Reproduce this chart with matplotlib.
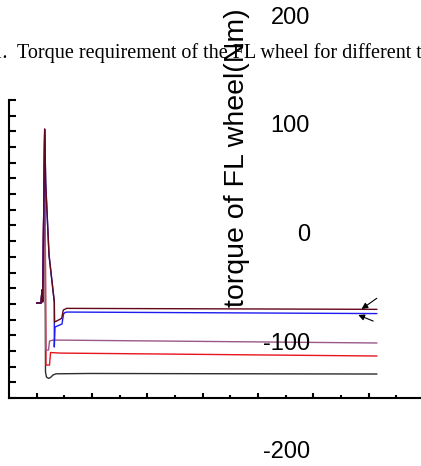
import matplotlib
matplotlib.use("Agg")
import matplotlib.pyplot as plt
import numpy as np

# shared start and spike (time in s, torque in Nm)
t_start = [0.0, 0.156, 0.192, 0.217, 0.289]
q_start = [-62.7, -62.7, -50.7, -61.5, 97.4]

# each case continues from the spike top
t_black = [0.318, 0.354, 0.427, 0.499, 0.590, 0.698, 1.928, 12.297]
q_black = [-126.3, -130.9, -132.1, -131.3, -129.0, -127.9, -127.6, -128.1]

t_red = [0.336, 0.463, 0.499, 0.843, 12.297]
q_red = [-119.8, -119.8, -108.3, -108.8, -111.5]

t_purple = [0.329, 0.427, 0.463, 0.600, 12.297]
q_purple = [-106.0, -106.0, -97.7, -96.8, -99.5]

t_blue = [0.325, 0.445, 0.637, 0.637, 0.662, 0.915, 0.969, 1.024, 1.096, 12.297]
q_blue = [47.9, -18.4, -61.8, -103.2, -84.8, -82.0, -72.8, -71.4, -71.0, -72.4]

t_maroon = [0.325, 0.445, 0.637, 0.647, 0.904, 0.962, 1.085, 12.297]
q_maroon = [47.9, -18.4, -61.8, -80.2, -76.8, -69.1, -67.6, -68.5]

y_labels = [200, 100, 0, -100, -200]

# arrows: (tail, head)
arrows = [((12.30, -58.3), (11.75, -68.2)),
          ((12.17, -79.3), (11.63, -73.7))]

fig = plt.figure(figsize=(4.21, 4.66), dpi=100)
ax = fig.add_axes([0.0221, 0.1459, 0.978, 0.6395])

series = [(t_black, q_black, "#2e2e2e"),
          (t_red, q_red, "#e8141e"),
          (t_purple, q_purple, "#9a5888"),
          (t_blue, q_blue, "#1c1cf0"),
          (t_maroon, q_maroon, "#62081c")]
for t, q, c in series:
    ax.plot(t_start + t, q_start + q, color=c, lw=1.0)

for tail, head in arrows:
    ax.annotate("", xy=head, xytext=tail,
                arrowprops=dict(arrowstyle="-|>", color="black", lw=0.8,
                                mutation_scale=9, shrinkA=0, shrinkB=0))

ax.set_xlim(-0.991, 13.90)
ax.set_ylim(-150.2, 124.4)

ax.spines["top"].set_visible(False)
ax.spines["right"].set_visible(False)
ax.spines["left"].set_linewidth(1.5)
ax.spines["bottom"].set_linewidth(1.5)

ax.set_yticks(np.linspace(-150.2, 124.4, 20))
ax.set_xticks(np.arange(0, 14, 2))
ax.set_xticks(np.arange(1, 14, 2), minor=True)
ax.tick_params(axis="y", direction="in", length=5, width=1.5, labelleft=False)
ax.tick_params(axis="x", which="major", direction="in", length=3.8, width=1.5, labelbottom=False)
ax.tick_params(axis="x", which="minor", direction="in", length=2.2, width=1.5)

# misplaced tick labels drawn as text
for v in y_labels:
    ax.text(9.884, v, str(v), ha="right", va="center", fontsize=17,
            family="Liberation Sans", clip_on=False)

fig.text(237 / 421, 1 - 157.5 / 466, "torque of FL wheel(Nm)", rotation=90,
         ha="center", va="center", fontsize=20.5, family="Liberation Sans")

fig.text(8 / 421, 1 - 58 / 466, "Fig. 11.", ha="right", va="baseline",
         fontsize=14.5, family="Liberation Serif")
fig.text(17 / 421, 1 - 58 / 466, "Torque requirement of the FL wheel for different types",
         ha="left", va="baseline", fontsize=14.5, family="Liberation Serif")

fig.savefig("out.png", dpi=100)
